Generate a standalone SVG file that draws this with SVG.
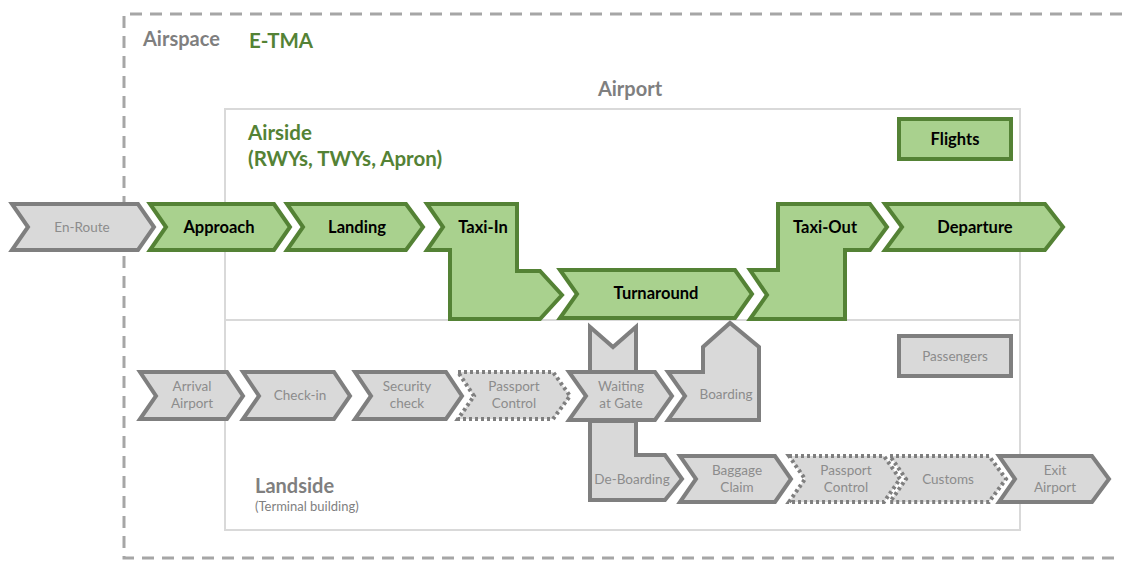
<svg xmlns="http://www.w3.org/2000/svg" width="1125" height="561" viewBox="0 0 1125 561">
<style>
text{font-family:Lato,"Open Sans","Liberation Sans",sans-serif}
.g{fill:#a9d18e;stroke:#548235;stroke-width:4;stroke-linejoin:miter}
.p{fill:#d9d9d9;stroke:#7f7f7f;stroke-width:4;stroke-linejoin:miter}
.d{fill:#d9d9d9;stroke:#7f7f7f;stroke-width:4;stroke-dasharray:3 3}
.gt{font-size:16.5px;font-weight:700;fill:#000;text-anchor:middle}
.pt{font-size:13.5px;fill:#8c8c8c;text-anchor:middle}
.title{font-size:20px;font-weight:700;fill:#7f7f7f}
.green{font-size:20.5px;font-weight:700;fill:#548235}
</style>
<rect width="1125" height="561" fill="#fff"/>
<g id="areas">
<path d="M1122,14 H124 V558 H1122" fill="none" stroke="#a6a6a6" stroke-width="3" stroke-dasharray="12 8"/>
<rect x="225" y="109" width="795" height="421" fill="none" stroke="#d9d9d9" stroke-width="2"/>
<line x1="225" y1="320" x2="1020" y2="320" stroke="#d9d9d9" stroke-width="2"/>
<text class="title" x="143" y="46">Airspace</text>
<text class="green" x="249" y="48">E-TMA</text>
<text class="title" x="630" y="96" text-anchor="middle">Airport</text>
<text class="green" x="248" y="140">Airside</text>
<text class="green" x="248" y="166">(RWYs, TWYs, Apron)</text>
<text class="title" x="255" y="493" font-size="21">Landside</text>
<text x="255" y="511" font-size="13" fill="#7f7f7f">(Terminal building)</text>
</g>
<g id="legend-flights"><rect class="g" x="899" y="119" width="112" height="40"/><text class="gt" x="955" y="145">Flights</text></g>
<g id="legend-passengers"><rect class="p" x="899" y="336" width="112" height="40"/><text class="pt" x="955" y="361">Passengers</text></g>
<g id="en-route"><path class="p" d="M12,204 H138 L154,227 L138,250 H12 L28,227 Z"/><text class="pt" x="82" y="232" fill="#a0a0a0">En-Route</text></g>
<g id="approach"><path class="g" d="M150,204 H274 L290,227 L274,250 H150 L166,227 Z"/><text class="gt" x="219" y="233">Approach</text></g>
<g id="landing"><path class="g" d="M287,204 H406 L423,227 L406,250 H287 L303,227 Z"/><text class="gt" x="357" y="233">Landing</text></g>
<g id="taxi-in"><path class="g" d="M427,204 H517 V271 H540 L562,295 L540,319 H450 V250 H427 L443,227 Z"/><text class="gt" x="483" y="233">Taxi-In</text></g>
<g id="turnaround"><path class="g" d="M560,270 H735 L752,294 L735,318 H560 L577,294 Z"/><text class="gt" x="656" y="299">Turnaround</text></g>
<g id="taxi-out"><path class="g" d="M778,204 H870 L887,227 L870,250 H845 V319 H750 L767,295 L750,270 H778 Z"/><text class="gt" x="825" y="233">Taxi-Out</text></g>
<g id="departure"><path class="g" d="M885,204 H1045 L1063,227 L1045,250 H885 L902,227 Z"/><text class="gt" x="975" y="233">Departure</text></g>
<g id="arrival-airport"><path class="p" d="M140,372 H227 L243,396 L227,419 H140 L156,396 Z"/><text class="pt" x="192" y="391">Arrival</text><text class="pt" x="192" y="408">Airport</text></g>
<g id="check-in"><path class="p" d="M243,372 H334 L350,396 L334,419 H243 L259,396 Z"/><text class="pt" x="300" y="400">Check-in</text></g>
<g id="security-check"><path class="p" d="M355,372 H446 L462,396 L446,419 H355 L371,396 Z"/><text class="pt" x="407" y="391">Security</text><text class="pt" x="407" y="408">check</text></g>
<g id="passport-control-1"><path class="d" d="M458,372 H553 L570,396 L553,419 H458 L474,396 Z"/><text class="pt" x="514" y="391">Passport</text><text class="pt" x="514" y="408">Control</text></g>
<g id="waiting-at-gate"><path class="p" d="M590,372 V327 L613,347 L636,327 V372 Z"/><path class="p" d="M569,372 H655 L672,396 L655,420 H569 L586,396 Z"/><text class="pt" x="621" y="391">Waiting</text><text class="pt" x="621" y="408">at Gate</text></g>
<g id="boarding"><path class="p" d="M668,372 H703 V347 L730,323 L759,347 V420 H668 L685,396 Z"/><text class="pt" x="726" y="399">Boarding</text></g>
<g id="de-boarding"><path class="p" d="M590,421 H636 V455 H665 L682,479 L665,500 H590 Z"/><text class="pt" x="632" y="484">De-Boarding</text></g>
<g id="baggage-claim"><path class="p" d="M680,456 H775 L791,479 L775,502 H680 L696,479 Z"/><text class="pt" x="737" y="475">Baggage</text><text class="pt" x="737" y="492">Claim</text></g>
<g id="passport-control-2"><path class="d" d="M789,456 H884 L900,479 L884,502 H789 L805,479 Z"/><text class="pt" x="846" y="475">Passport</text><text class="pt" x="846" y="492">Control</text></g>
<g id="customs"><path class="d" d="M890,456 H989 L1006,479 L989,502 H890 L906,479 Z"/><text class="pt" x="948" y="484">Customs</text></g>
<g id="exit-airport"><path class="p" d="M999,456 H1092 L1109,479 L1092,502 H999 L1015,479 Z"/><text class="pt" x="1055" y="475">Exit</text><text class="pt" x="1055" y="492">Airport</text></g>
<g id="connectors"/>
</svg>
